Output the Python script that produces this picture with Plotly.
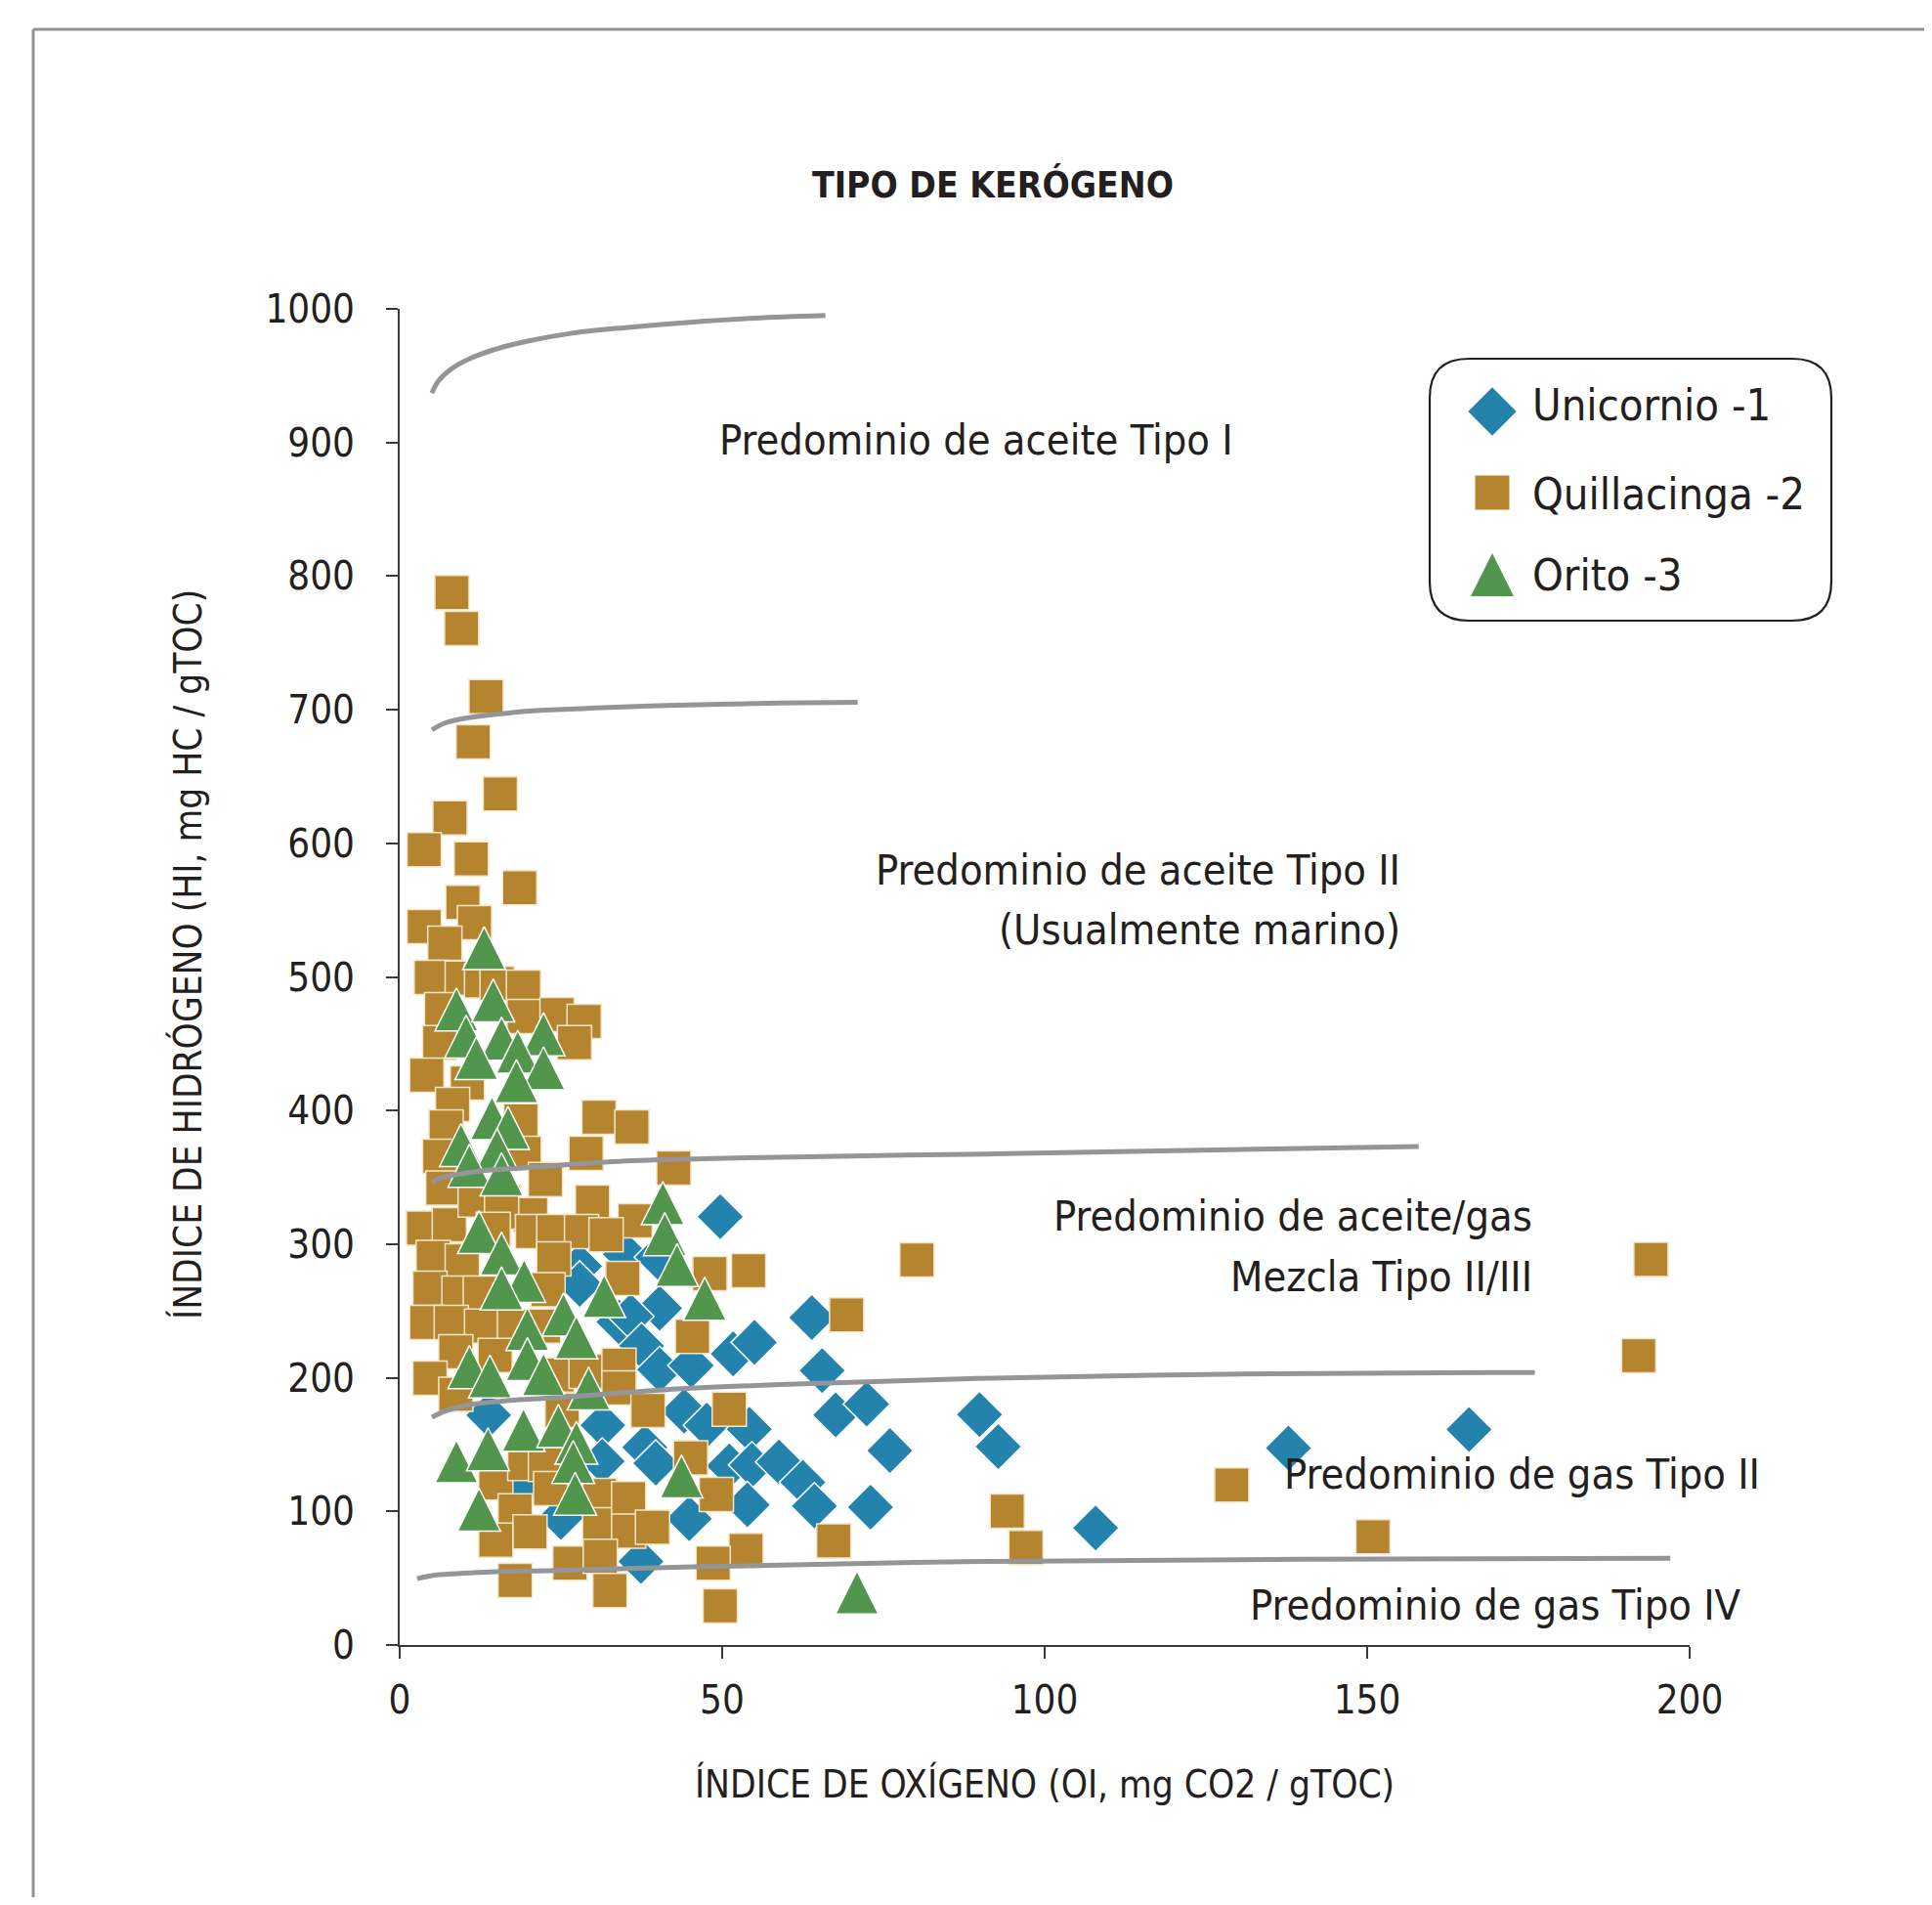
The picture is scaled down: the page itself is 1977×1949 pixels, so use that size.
import plotly.graph_objects as go

# ---------------- data ----------------
series_names = ["Unicornio -1", "Quillacinga -2", "Orito -3"]

unicornio_oi = [49.7, 27.9, 27.9, 35.0, 40.0, 40.3, 34.0, 35.8, 37.5, 51.7, 55.0, 63.9, 65.5, 40.3,
                45.2, 67.6, 72.4, 76.0, 89.9, 92.8, 107.9, 137.8, 165.8, 13.8, 31.5, 44.1, 47.6, 54.2,
                38.0, 31.4, 39.7, 51.1, 54.6, 58.8, 62.5, 64.3, 53.9, 44.9, 73.0, 25.0, 19.3, 37.4]
unicornio_hi = [320.6, 283.5, 270, 292.4, 290.3, 252, 241.8, 246, 223.8, 217.9, 226.5, 245, 205.4, 206.1,
                209.2, 172.2, 180.3, 145.5, 172.4, 148.5, 87.6, 147.4, 161.3, 172, 164.5, 175, 164.5, 161.5,
                148, 137.5, 136, 134, 134.7, 137, 121.8, 104, 104.9, 94.5, 103.2, 95.5, 119.7, 62.5]

quillacinga_oi = [8.1, 9.6, 13.4, 11.4, 15.6, 7.8, 3.8, 11.1, 18.6, 9.8, 3.8, 11.6, 7.0, 4.9, 9.7, 12.7,
                  15.1, 19.2, 6.5, 19.3, 24.4, 28.6, 27.1, 6.2, 4.2, 10.5, 8.2, 7.2, 18.8, 30.9, 36.0,
                  28.9, 6.2, 19.3, 42.5, 6.7, 22.6, 29.9, 16.1, 3.7, 20.3, 36.5, 7.7, 11.7, 15.8, 14.5,
                  5.2, 9.7, 20.6, 23.9, 28.2, 32.0, 23.9, 23.0, 4.7, 9.2, 12.5, 34.6, 4.2, 8.0, 12.7, 17.8,
                  22.3, 8.7, 14.8, 4.7, 8.7, 24.4, 28.9, 34.0, 34.0, 38.5, 25.2, 48.1, 54.1, 69.3,
                  45.4, 51.1, 45.1, 49.1, 67.3, 53.7, 48.6, 49.7, 80.2, 94.2, 97.1, 129.0, 194.0,
                  192.1, 150.9, 14.9, 19.4, 22.6, 17.9, 20.2, 14.9, 31.0, 31.0, 35.5, 35.5, 39.2,
                  26.4, 31.1, 32.6, 17.9, 23.4]
quillacinga_hi = [787.6, 760.8, 709.8, 675.9, 636.9, 619.1, 595.2, 588.4, 566.7, 555.7, 537.7, 540.6,
                  525.2, 499.6, 499.1, 497, 495, 492.3, 475.5, 470.4, 471.8, 466.7, 450.8, 450.8, 426.5,
                  420.6, 404.5, 387.7, 392.3, 395, 387.7, 368, 365.8, 368, 357, 342, 348.4, 331.4,
                  331.4, 312, 322, 317.5, 314.5, 333, 324, 311, 290, 287.5, 309.4, 309.4, 309.4, 307,
                  289, 266, 267, 263.3, 263.3, 274.3, 241.4, 241.4, 238.7, 238.7, 238.7, 219.5, 216.8,
                  199.7, 187.6, 202, 204.8, 209.4, 192.4, 175.6, 175.6, 278, 280.2, 247.1, 231, 176.4,
                  140, 112.7, 77.9, 70.8, 61.2, 29.3, 288.2, 100.2, 72.9, 119.7, 288.6, 216.5, 81.1,
                  121.2, 135.9, 135.1, 100.4, 84.6, 78.5, 112, 90, 109.6, 85.3, 88.1, 61.2, 66.3,
                  40.7, 48.3, 117]

orito_oi = [13.1, 8.8, 14.5, 10.3, 15.8, 22.3, 18.3, 11.9, 22.3, 18.1, 14.3, 16.8, 9.5, 15.1, 10.8,
            15.8, 40.8, 41.1, 43.0, 31.7, 12.3, 15.8, 19.3, 15.8, 25.4, 19.8, 27.4, 19.8, 10.8, 14.0,
            22.3, 29.3, 47.3, 19.2, 24.6, 8.8, 13.7, 27.4, 26.9, 27.2, 12.3, 43.7, 70.9]
orito_hi = [521.5, 475.7, 482.4, 455.4, 453.8, 457.1, 444, 439.2, 431.6, 422, 394.3, 387, 374.2, 370.6,
            358.7, 352.3, 330.7, 307.5, 284.3, 261.1, 309, 292.9, 272.5, 266.9, 247.3, 236.5, 230.2,
            213.9, 208, 201, 202.6, 192, 259.2, 161, 163.9, 137.5, 146.5, 151.4, 137, 113.2, 101.4,
            126.1, 39.3]

# boundary curves
curve_1000_oi = [5, 6, 8, 11, 15, 20, 27, 35, 45, 55, 66]
curve_1000_hi = [937, 946, 955, 963, 970, 976, 982, 986, 990, 993, 995]
curve_700_oi = [5, 7, 10, 14, 20, 29, 40, 59, 71]
curve_700_hi = [685, 690, 693.5, 696, 699, 701, 703, 705, 705.5]
curve_350_oi = [5, 6, 8.7, 12, 18.8, 34, 47, 70, 91, 120, 158]
curve_350_hi = [346, 349, 352, 354.5, 357, 362, 364, 366, 367.5, 370, 373]
curve_200_oi = [5, 7, 11, 17, 24, 41, 59, 89.5, 135, 176]
curve_200_hi = [170.5, 175, 180, 183, 185, 191, 195, 199.5, 203, 204]
curve_60_oi = [2.7, 5, 8.7, 15, 24, 47, 90, 140, 197]
curve_60_hi = [49.7, 52, 53.4, 54.8, 55.8, 58.7, 62.5, 64.2, 65]

x_ticks = [0, 50, 100, 150, 200]
y_ticks = [0, 100, 200, 300, 400, 500, 600, 700, 800, 900, 1000]

title_text = "TIPO DE KERÓGENO"
x_title = "ÍNDICE DE OXÍGENO (OI, mg CO2 / gTOC)"
y_title = "ÍNDICE DE HIDRÓGENO (HI, mg HC / gTOC)"
region_labels = ["Predominio de aceite Tipo I", "Predominio de aceite Tipo II", "(Usualmente marino)",
                 "Predominio de aceite/gas", "Mezcla Tipo II/III", "Predominio de gas Tipo II",
                 "Predominio de gas Tipo IV"]

# ---------------- style ----------------
FONT = "Liberation Sans Narrow, Arial Narrow, DejaVu Sans Condensed, Roboto Condensed, sans-serif"
TXT = "#231f20"
BLUE = "#2383ad"
GOLD = "#b5842f"
GREEN = "#52954d"
GREY = "#939598"

OFF = 8  # body margin of the html page
FIG_W, FIG_H = 1977 - 2 * OFF, 1949 - 2 * OFF
PX0, PX1 = 409, 1729   # screen x of OI 0 and 200
PY0, PY1 = 1683, 316   # screen y of HI 0 and 1000
ML, MR = PX0 - OFF, FIG_W - (PX1 - OFF)
MT, MB = PY1 - OFF, FIG_H - (PY0 - OFF)


def pxx(X):
    return (X - PX0) / (PX1 - PX0)


def pxy(Y):
    return (PY0 - Y) / (PY0 - PY1)


SQ = 35
DI = 37
TRI = 44

fig = go.Figure()

fig.add_trace(go.Scatter(x=unicornio_oi, y=unicornio_hi, mode="markers", name=series_names[0],
                         marker=dict(symbol="diamond", size=DI, color=BLUE,
                                     line=dict(color="white", width=1.5)), showlegend=False))
fig.add_trace(go.Scatter(x=quillacinga_oi, y=quillacinga_hi, mode="markers", name=series_names[1],
                         marker=dict(symbol="square", size=SQ, color=GOLD,
                                     line=dict(color="#f3e6c8", width=1.5)), showlegend=False))
fig.add_trace(go.Scatter(x=orito_oi, y=orito_hi, mode="markers", name=series_names[2],
                         marker=dict(symbol="arrow-down", angle=180, standoff=TRI / 2, size=TRI,
                                     color=GREEN, line=dict(color="white", width=1.5)),
                         showlegend=False))

for cx, cy in [(curve_1000_oi, curve_1000_hi), (curve_700_oi, curve_700_hi),
               (curve_350_oi, curve_350_hi), (curve_200_oi, curve_200_hi),
               (curve_60_oi, curve_60_hi)]:
    fig.add_trace(go.Scatter(x=cx, y=cy, mode="lines", line=dict(color=GREY, width=5, shape="spline"),
                             showlegend=False, hoverinfo="skip"))

# legend keys on a hidden overlay axis expressed in screen pixels
leg_x = 1527
leg_y = [421, 504, 588]
leg_sym = [("diamond", DI + 1, BLUE, {}), ("square", SQ, GOLD, {}),
           ("arrow-down", TRI, GREEN, dict(angle=180, standoff=TRI / 2))]
for i, (sym, sz, col, extra) in enumerate(leg_sym):
    fig.add_trace(go.Scatter(x=[leg_x], y=[leg_y[i]], xaxis="x2", yaxis="y2", mode="markers",
                             marker=dict(symbol=sym, size=sz, color=col, line=dict(width=0), **extra),
                             showlegend=False, hoverinfo="skip"))

annotations = []
leg_text_y = [414, 505, 588]
for i, name in enumerate(series_names):
    annotations.append(dict(text=name, xref="paper", yref="paper", x=pxx(1566), y=pxy(leg_text_y[i]),
                            xanchor="left", yanchor="middle", showarrow=False,
                            font=dict(family=FONT, size=45, color=TXT)))

# region labels (screen positions of the original -> paper fractions)
reg = [
    (region_labels[0], 999, 450, "center"),
    (region_labels[1], 1435, 890, "right"),
    (region_labels[2], 1435, 951, "right"),
    (region_labels[3], 1570, 1244, "right"),
    (region_labels[4], 1570, 1306, "right"),
    (region_labels[5], 1803, 1508, "right"),
    (region_labels[6], 1784, 1642, "right"),
]
for t, sx, sy, anc in reg:
    annotations.append(dict(text=t, x=pxx(sx), y=pxy(sy), xref="paper", yref="paper", xanchor=anc,
                            yanchor="middle", showarrow=False,
                            font=dict(family=FONT, size=43, color=TXT)))

# y axis title (placed as rotated text, centred where the original puts it)
annotations.append(dict(text=y_title, xref="paper", yref="paper", x=pxx(192), y=pxy(977),
                        xanchor="center", yanchor="middle", textangle=-90, showarrow=False,
                        font=dict(family=FONT, size=38.5, color=TXT)))

# legend box with rounded corners, and page frame lines
x0, x1, y0, y1, r = 1463, 1874, 367, 635, 40
path = (f"M {pxx(x0 + r)},{pxy(y0)} L {pxx(x1 - r)},{pxy(y0)} Q {pxx(x1)},{pxy(y0)} {pxx(x1)},{pxy(y0 + r)} "
        f"L {pxx(x1)},{pxy(y1 - r)} Q {pxx(x1)},{pxy(y1)} {pxx(x1 - r)},{pxy(y1)} "
        f"L {pxx(x0 + r)},{pxy(y1)} Q {pxx(x0)},{pxy(y1)} {pxx(x0)},{pxy(y1 - r)} "
        f"L {pxx(x0)},{pxy(y0 + r)} Q {pxx(x0)},{pxy(y0)} {pxx(x0 + r)},{pxy(y0)} Z")
shapes = [
    dict(type="path", path=path, xref="paper", yref="paper", line=dict(color="#231f20", width=2.2),
         fillcolor="rgba(0,0,0,0)"),
    dict(type="line", xref="paper", yref="paper", x0=pxx(34), x1=pxx(1990), y0=pxy(30), y1=pxy(30),
         line=dict(color="#8f9194", width=3)),
    dict(type="line", xref="paper", yref="paper", x0=pxx(34), x1=pxx(34), y0=pxy(30), y1=pxy(1960),
         line=dict(color="#8f9194", width=3)),
]

fig.update_layout(
    width=FIG_W, height=FIG_H,
    margin=dict(l=ML, r=MR, t=MT, b=MB, autoexpand=False),
    paper_bgcolor="white", plot_bgcolor="white",
    title=dict(text="<b>" + title_text + "</b>", x=(1016 - OFF) / FIG_W, y=1 - (189 - OFF) / FIG_H,
               xanchor="center", yanchor="middle", xref="container", yref="container",
               font=dict(family=FONT, size=37, color=TXT)),
    xaxis=dict(range=[0, 200], tickvals=x_ticks, ticks="outside", ticklen=12, tickwidth=2,
               tickcolor="#3a3a3a", showline=True, linecolor="#3a3a3a", linewidth=2, showgrid=False,
               zeroline=False, ticklabelstandoff=8,
               tickfont=dict(family=FONT, size=40, color=TXT),
               title=dict(text=x_title, standoff=51, font=dict(family=FONT, size=38.5, color=TXT))),
    yaxis=dict(range=[0, 1000], tickvals=y_ticks, ticks="outside", ticklen=12, tickwidth=2,
               tickcolor="#3a3a3a", showline=True, linecolor="#3a3a3a", linewidth=2, showgrid=False,
               zeroline=False, ticklabelstandoff=24,
               tickfont=dict(family=FONT, size=40, color=TXT)),
    xaxis2=dict(range=[PX0, PX1], overlaying="x", visible=False, fixedrange=True),
    yaxis2=dict(range=[PY0, PY1], overlaying="y", visible=False, fixedrange=True),
    annotations=annotations,
    shapes=shapes,
    showlegend=False,
)

fig.write_html("out.html")
